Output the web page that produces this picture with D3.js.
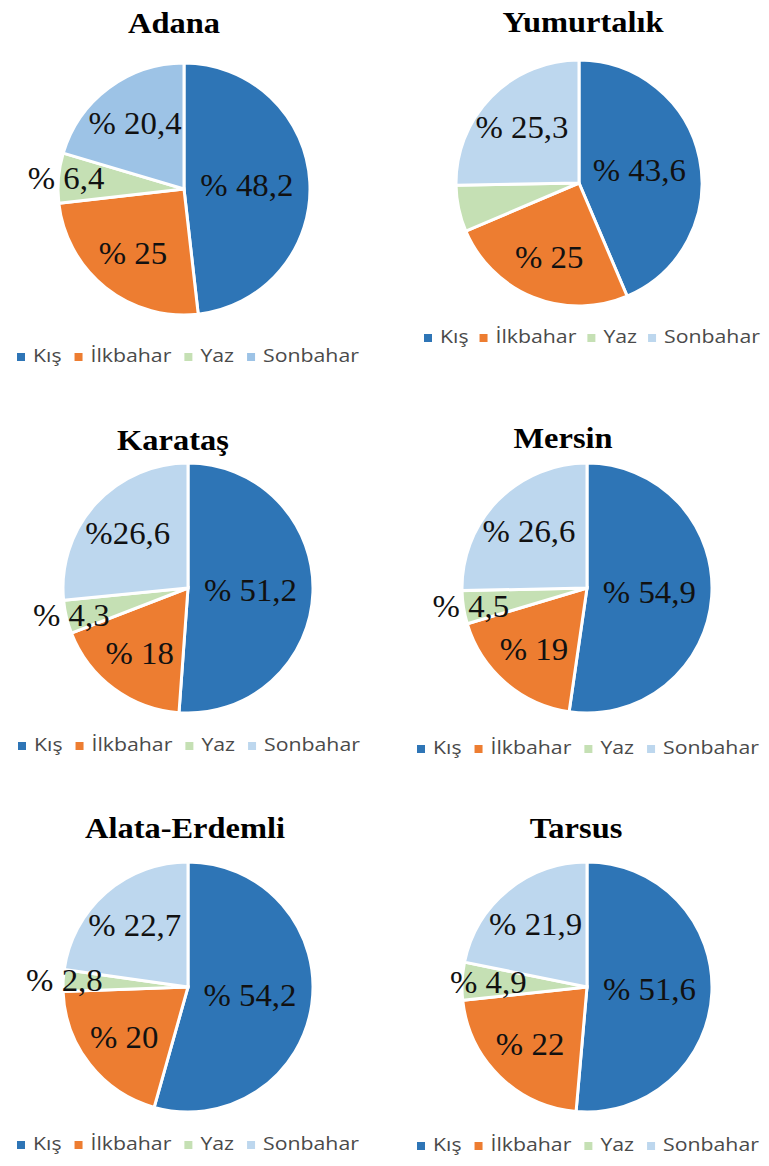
<!DOCTYPE html>
<html><head><meta charset="utf-8">
<script src="https://cdn.jsdelivr.net/npm/d3@7"></script>
<style>body{margin:0;background:#fff}</style>
</head><body>
<svg id="chart" width="769" height="1166"></svg>
<script>
// ---- data ----
const seasons = ["Kış", "İlkbahar", "Yaz", "Sonbahar"];
const cities = ["Adana", "Yumurtalık", "Karataş", "Mersin", "Alata-Erdemli", "Tarsus"];
const kis = [48.2, 43.6, 51.2, 54.9, 54.2, 51.6];
const ilkbahar = [25, 25, 18, 19, 20, 22];
const yaz = [6.4, 6.1, 4.3, 4.5, 2.8, 4.9];
const sonbahar = [20.4, 25.3, 26.6, 26.6, 22.7, 21.9];
const kisLabels = ["% 48,2", "% 43,6", "% 51,2", "% 54,9", "% 54,2", "% 51,6"];
const ilkbaharLabels = ["% 25", "% 25", "% 18", "% 19", "% 20", "% 22"];
const yazLabels = ["% 6,4", "", "% 4,3", "% 4,5", "% 2,8", "% 4,9"];
const sonbaharLabels = ["% 20,4", "% 25,3", "%26,6", "% 26,6", "% 22,7", "% 21,9"];

// ---- layout / style ----
const layout = [
  {cx:184, cy:189, r:126, tx:174, ty:33,  lx:17,  ly:362,  gap:13, yazR:0.94, son:"#9DC3E6"},
  {cx:579, cy:183, r:123, tx:583, ty:32,  lx:424, ly:343,  gap:11, yazR:0.90, son:"#BDD7EE"},
  {cx:188, cy:588, r:125, tx:173, ty:450, lx:18,  ly:751,  gap:13, yazR:0.96, son:"#BDD7EE"},
  {cx:587, cy:588, r:125, tx:563, ty:448, lx:417, ly:754,  gap:13, yazR:0.94, son:"#BDD7EE"},
  {cx:188, cy:987, r:125, tx:185, ty:838, lx:17,  ly:1150, gap:13, yazR:0.99, son:"#BDD7EE"},
  {cx:587, cy:987, r:125, tx:576, ty:838, lx:417, ly:1151, gap:13, yazR:0.79, son:"#BDD7EE"}
];
const baseColors = ["#2E75B6", "#ED7D31", "#C5E0B4", "#BDD7EE"];
const labelFrac = [0.5, 0.65, null, 0.65];

const svg = d3.select("#chart");
svg.append("rect").attr("width", 769).attr("height", 1166).attr("fill", "#fff");

const pie = d3.pie().sort(null).value(d => d.v);

cities.forEach((city, i) => {
  const L = layout[i];
  const colors = baseColors.slice(); colors[3] = L.son;
  const color = d3.scaleOrdinal().domain(seasons).range(colors);
  const vals = [kis[i], ilkbahar[i], yaz[i], sonbahar[i]];
  const labs = [kisLabels[i], ilkbaharLabels[i], yazLabels[i], sonbaharLabels[i]];
  const data = seasons.map((s, k) => ({s, v: vals[k], lab: labs[k], k}));

  // title
  svg.append("text")
    .attr("transform", `translate(${L.tx},${L.ty}) scale(1.12,1)`)
    .attr("text-anchor", "middle")
    .attr("font-family", "'Liberation Serif','Times New Roman',serif")
    .attr("font-weight", "bold")
    .attr("font-size", 29)
    .attr("fill", "#000")
    .text(city);

  const g = svg.append("g").attr("transform", `translate(${L.cx},${L.cy})`);
  const arc = d3.arc().innerRadius(0).outerRadius(L.r);
  const arcs = pie(data);
  g.selectAll("path").data(arcs).join("path")
    .attr("d", arc)
    .attr("fill", d => color(d.data.s))
    .attr("stroke", "#fff")
    .attr("stroke-width", 3)
    .attr("stroke-linejoin", "miter");

  arcs.forEach(d => {
    if (!d.data.lab) return;
    const f = d.data.k === 2 ? L.yazR : labelFrac[d.data.k];
    const la = d3.arc().innerRadius(L.r * f).outerRadius(L.r * f);
    const [x, y] = la.centroid(d);
    g.append("text")
      .attr("transform", `translate(${x},${y + 10.5}) scale(1.06,1)`)
      .attr("text-anchor", "middle")
      .attr("font-family", "'Liberation Serif','Times New Roman',serif")
      .attr("font-size", 31)
      .attr("fill", "#111")
      .text(d.data.lab);
  });

  // legend
  const lg = svg.append("g");
  let x = L.lx;
  const sx = 1.12;
  seasons.forEach((s, k) => {
    lg.append("rect")
      .attr("x", x).attr("y", L.ly - 9)
      .attr("width", 8).attr("height", 8)
      .attr("fill", color(s));
    x += 8 + 8;
    const t = lg.append("text")
      .attr("transform", `translate(${x},${L.ly}) scale(${sx},1)`)
      .attr("font-family", "'Open Sans','Noto Sans',sans-serif")
      .attr("font-size", 19)
      .attr("fill", "#4a4a4a")
      .text(s);
    x += t.node().getComputedTextLength() * sx + L.gap;
  });
});
</script>
</body></html>
